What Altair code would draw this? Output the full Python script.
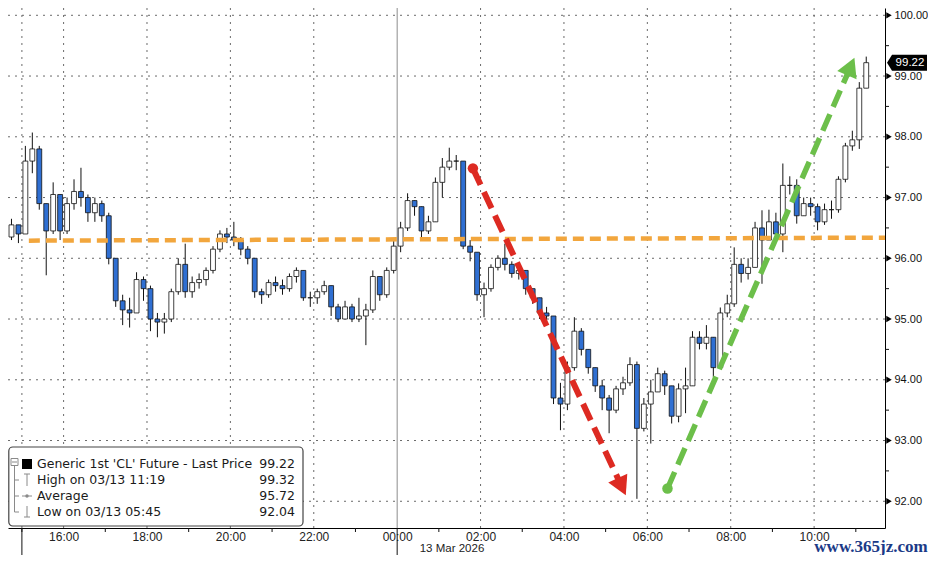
import math
import altair as alt
import pandas as pd

# ---------------- data ----------------
first_open = 96.35
candle_start = "14:40"          # 12 Mar 2026, 10-minute bars
bar_minutes = 10

closes = [
    96.55, 96.40, 97.60, 97.80, 96.90, 96.45, 97.05, 96.45, 96.90, 97.10,
    97.00, 96.75, 96.90, 96.70, 96.00, 95.30, 95.15, 95.10, 95.65, 95.50,
    95.00, 94.95, 95.00, 95.45, 95.90, 95.45, 95.60, 95.65, 95.80, 96.15,
    96.40, 96.35, 96.30, 96.15, 96.00, 95.45, 95.40, 95.60, 95.55, 95.50,
    95.70, 95.80, 95.35, 95.35, 95.45, 95.55, 95.20, 95.00, 95.20, 95.00,
    95.05, 95.15, 95.70, 95.40, 95.80, 96.20, 96.50, 96.95, 96.85, 96.45,
    96.60, 97.25, 97.50, 97.60, 97.60, 96.20, 96.10, 95.40, 95.50, 95.85,
    96.00, 95.90, 95.75, 95.80, 95.50, 95.35, 95.10, 95.05, 93.70, 93.60,
    94.20, 94.80, 94.50, 94.20, 93.90, 93.70, 93.50, 93.85, 93.95, 94.25,
    93.20, 93.60, 93.80, 94.10, 93.90, 93.40, 93.85, 93.90, 94.70, 94.60,
    94.70, 94.20, 95.10, 95.25, 95.90, 95.75, 95.85, 96.50, 96.30, 96.60,
    96.40, 97.20, 97.20, 96.70, 96.90, 96.85, 96.60, 96.80, 96.80, 97.30,
    97.85, 97.95, 98.80, 99.22]
highs = [
    96.65, 96.55, 97.85, 98.07, 97.85, 96.90, 97.25, 97.05, 97.00, 97.30,
    97.49, 97.05, 97.00, 96.95, 96.75, 96.00, 95.40, 95.35, 95.77, 95.70,
    95.55, 95.10, 95.10, 95.50, 96.00, 96.24, 95.70, 95.75, 95.85, 96.20,
    96.46, 96.50, 96.60, 96.35, 96.20, 96.00, 95.50, 95.65, 95.70, 95.65,
    95.75, 95.85, 95.80, 95.45, 95.50, 95.63, 95.55, 95.25, 95.30, 95.25,
    95.35, 95.25, 95.80, 95.70, 95.85, 96.30, 96.60, 97.07, 96.95, 96.85,
    96.70, 97.33, 97.65, 97.82, 97.70, 97.60, 96.30, 96.10, 95.60, 95.90,
    96.05, 96.24, 95.95, 95.90, 95.80, 95.50, 95.35, 95.20, 95.05, 93.95,
    94.30, 95.03, 94.85, 94.50, 94.20, 94.00, 93.75, 93.90, 94.05, 94.37,
    94.30, 93.70, 94.00, 94.20, 94.15, 93.90, 93.94, 94.20, 94.80, 94.80,
    94.90, 94.70, 95.19, 95.40, 96.18, 96.00, 96.00, 96.60, 96.79, 96.80,
    96.75, 97.56, 97.35, 97.30, 97.00, 97.00, 96.90, 96.90, 96.95, 97.35,
    97.90, 98.10, 98.90, 99.32]
lows = [
    96.30, 96.25, 96.40, 97.40, 96.80, 95.72, 96.40, 96.30, 96.40, 96.80,
    96.85, 96.60, 96.60, 96.60, 95.90, 95.20, 94.90, 94.86, 95.10, 95.30,
    94.80, 94.70, 94.76, 94.95, 95.40, 95.35, 95.35, 95.50, 95.55, 95.75,
    96.10, 96.25, 96.20, 96.05, 95.90, 95.35, 95.25, 95.35, 95.45, 95.40,
    95.45, 95.60, 95.30, 95.20, 95.25, 95.40, 95.05, 94.95, 95.00, 94.95,
    94.95, 94.57, 95.10, 95.30, 95.35, 95.75, 96.10, 96.45, 96.70, 96.34,
    96.40, 96.60, 97.00, 97.45, 97.45, 96.15, 95.95, 95.30, 95.03, 95.45,
    95.80, 95.80, 95.68, 95.65, 95.40, 95.25, 95.00, 94.95, 93.60, 93.17,
    93.50, 94.15, 94.40, 94.10, 93.80, 93.50, 93.12, 93.45, 93.75, 93.90,
    92.04, 93.15, 92.95, 93.80, 93.75, 93.28, 93.30, 93.45, 93.90, 94.50,
    94.50, 94.04, 94.20, 95.03, 95.20, 95.60, 95.65, 95.85, 95.58, 96.30,
    96.30, 96.10, 97.05, 96.57, 96.70, 96.70, 96.46, 96.55, 96.65, 96.75,
    97.25, 97.77, 97.80, 98.80]

price_ticks = [92, 93, 94, 95, 96, 97, 98, 99, 100]
half_ticks = [92.5, 93.5, 94.5, 95.5, 96.5, 97.5, 98.5, 99.5]
label_hours = ["16:00", "18:00", "20:00", "22:00", "00:00", "02:00",
               "04:00", "06:00", "08:00", "10:00"]
dotted_hours = ["15:00", "16:00", "18:00", "20:00", "22:00", "02:00",
                "04:00", "06:00", "08:00", "10:00"]
odd_hours = ["15:00", "17:00", "19:00", "21:00", "23:00", "01:00", "03:00",
             "05:00", "07:00", "09:00", "11:00"]
session_breaks = ["15:00", "00:00"]
view_start, view_end = "14:40", "11:42"
price_min, price_max = 91.56, 100.12

avg_line_time = ["15:10", "11:42"]
avg_line_price = [96.29, 96.34]
red_time = ["01:49", "05:29"]
red_price = [97.48, 92.10]
green_time = ["06:29", "10:58"]
green_price = [92.21, 99.30]

legend_labels = ["Generic 1st 'CL' Future - Last Price", "High on 03/13 11:19",
                 "Average", "Low on 03/13 05:45"]
legend_values = ["99.22", "99.32", "95.72", "92.04"]
last_price = 99.22
date_label = "13 Mar 2026"
watermark = "www.365jz.com"


# ---------------- helpers ----------------
def hrs(s):
    h, m = map(int, s.split(":"))
    v = h + m / 60.0
    return v - 24 if v >= 12 else v   # hours relative to 13 Mar 00:00


W, H = 877, 520
X0, X1 = hrs(view_start), hrs(view_end)
pxh = W / (X1 - X0)
pxp = H / (price_max - price_min)

XS = alt.Scale(domain=[X0, X1], nice=False, zero=False)
YS = alt.Scale(domain=[price_min, price_max], nice=False, zero=False)
XAX = alt.Axis(values=[hrs(s) for s in label_hours],
               labelExpr="pad(toString((datum.value + 24) % 24), 2, '0', 'left') + ':00'",
               grid=False, ticks=False, tickSize=0, domain=True, domainColor="#000",
               domainWidth=1, labelFont="Liberation Sans", labelFontSize=12,
               labelColor="#222", labelPadding=3, title=None, labelFlush=False,
               labelOverlap=False)
YAX = alt.Axis(orient="right", values=price_ticks, format=".2f", grid=False,
               ticks=False, tickSize=0, domain=True, domainColor="#000", domainWidth=1,
               labelFont="Liberation Sans", labelFontSize=11, labelColor="#111",
               labelPadding=9, title=None, labelFlush=False, labelOverlap=False)


def X(f):
    return alt.X(f, type="quantitative", scale=XS, axis=XAX)


def Y(f):
    return alt.Y(f, type="quantitative", scale=YS, axis=YAX)


t_start = hrs(candle_start)
step = bar_minutes / 60.0
opens = [first_open] + closes[:-1]
rows = []
for i, (o, c, h, l) in enumerate(zip(opens, closes, highs, lows)):
    t = t_start + i * step
    rows.append({"t0": t + 1.5 / 60, "t1": t + 8.5 / 60, "tm": t + 5 / 60,
                 "o": o, "c": c, "h": h, "l": l,
                 "dir": "up" if c >= o else "down"})
candles = pd.DataFrame(rows)

dummy = pd.DataFrame({"k": [0]})
GRID = "#6a6a6a"

layers = []

# gridlines
layers.append(alt.Chart(pd.DataFrame({"p": price_ticks})).mark_rule(
    color=GRID, strokeWidth=1, strokeDash=[2, 5]).encode(
    y=Y("p"), x=alt.value(0), x2=alt.value(W)))
layers.append(alt.Chart(pd.DataFrame({"t": [hrs(s) for s in dotted_hours]})).mark_rule(
    color=GRID, strokeWidth=1, strokeDash=[2, 5]).encode(
    x=X("t"), y=alt.value(0), y2=alt.value(H)))
layers.append(alt.Chart(pd.DataFrame({"t": [hrs("00:00")]})).mark_rule(
    color="#8c8c8c", strokeWidth=1).encode(x=X("t"), y=alt.value(0), y2=alt.value(H)))
layers.append(alt.Chart(pd.DataFrame({"t": [hrs(s) for s in session_breaks]})).mark_rule(
    color="#111", strokeWidth=1).encode(x=X("t"), y=alt.value(H), y2=alt.value(H + 27)))
layers.append(alt.Chart(pd.DataFrame({"t": [hrs(s) for s in odd_hours]})).mark_rule(
    color="#111", strokeWidth=1).encode(x=X("t"), y=alt.value(H), y2=alt.value(H + 4)))

# candles
layers.append(alt.Chart(candles).mark_rule(color="#111", strokeWidth=1).encode(
    x=X("tm"), y=Y("l"), y2="h"))
layers.append(alt.Chart(candles).mark_rect(stroke="#111", strokeWidth=0.8).encode(
    x=X("t0"), x2="t1", y=Y("o"), y2="c",
    fill=alt.Fill("dir:N", scale=alt.Scale(domain=["up", "down"],
                                           range=["#ffffff", "#2f6fd2"]), legend=None)))

# orange dashed level
layers.append(alt.Chart(pd.DataFrame({"t": [hrs(s) for s in avg_line_time],
                                      "p": avg_line_price})).mark_line(
    color="#f2a63d", strokeWidth=4.5, strokeDash=[11, 6], strokeCap="butt").encode(
    x=X("t"), y=Y("p")))

# arrows
HEAD = "M0,0L1,1.8L-1,1.8Z"


def arrow(times, prices, color, width, dash):
    ts, tt = hrs(times[0]), hrs(times[1])
    ps, pt = prices
    dx = (tt - ts) * pxh
    dy = -(pt - ps) * pxp
    n = math.hypot(dx, dy)
    ux, uy = dx / n, dy / n
    ang = math.degrees(math.atan2(ux, -uy)) % 360
    back = 12
    tb = tt - back * ux / pxh
    pb = pt + back * uy / pxp
    out = []
    out.append(alt.Chart(pd.DataFrame({"t": [ts], "p": [ps], "t2": [tb], "p2": [pb]})).mark_rule(
        color=color, strokeWidth=width, strokeDash=dash, strokeCap="butt").encode(
        x=X("t"), y=Y("p"), x2="t2", y2="p2"))
    out.append(alt.Chart(pd.DataFrame({"t": [ts], "p": [ps]})).mark_point(
        shape="circle", filled=True, size=110, color=color, opacity=1).encode(
        x=X("t"), y=Y("p")))
    out.append(alt.Chart(pd.DataFrame({"t": [tt], "p": [pt]})).mark_point(
        shape=HEAD, filled=True, size=441, color=color, opacity=1, angle=ang).encode(
        x=X("t"), y=Y("p")))
    return out


layers += arrow(red_time, red_price, "#dd2a22", 6, [18, 8])
layers += arrow(green_time, green_price, "#6cbf4a", 5.5, [18, 8])

# right axis decorations
layers.append(alt.Chart(pd.DataFrame({"p": price_ticks})).mark_point(
    shape="triangle-right", filled=True, size=40, color="#000", opacity=1).encode(
    x=alt.value(W + 4), y=Y("p")))
layers.append(alt.Chart(pd.DataFrame({"p": half_ticks})).mark_rule(
    color="#111", strokeWidth=1).encode(x=alt.value(W), x2=alt.value(W + 4), y=Y("p")))
TAG = "M-1,0L-0.75,-0.4L1,-0.4L1,0.4L-0.75,0.4Z"
layers.append(alt.Chart(pd.DataFrame({"p": [last_price]})).mark_point(
    shape=TAG, filled=True, size=1600, color="#000", opacity=1).encode(
    x=alt.value(W + 22), y=Y("p")))
layers.append(alt.Chart(pd.DataFrame({"p": [last_price], "s": [f"{last_price:.2f}"]})).mark_text(
    font="Liberation Sans", fontSize=11.5, color="#fff", align="center",
    baseline="middle").encode(x=alt.value(W + 25), y=Y("p"), text="s:N"))

# legend box
GRAY = "#8a8a8a"


def seg(x1, y1, x2, y2, color=GRAY, w=1):
    return alt.Chart(dummy).mark_rule(color=color, strokeWidth=w).encode(
        x=alt.value(x1), y=alt.value(y1), x2=alt.value(x2), y2=alt.value(y2))


layers.append(alt.Chart(dummy).mark_rect(fill="#fff", stroke="#444", strokeWidth=1.2,
                                         cornerRadius=4).encode(
    x=alt.value(0.8), x2=alt.value(295), y=alt.value(439), y2=alt.value(518)))
layers.append(alt.Chart(dummy).mark_point(shape="square", filled=False, size=49,
                                          color=GRAY, strokeWidth=1, opacity=1).encode(
    x=alt.value(6.5), y=alt.value(454)))
layers.append(seg(4, 454, 9, 454))
layers.append(seg(6.5, 458, 6.5, 504))
for yy in (472, 488, 504):
    layers.append(seg(6.5, yy, 11, yy))
layers.append(alt.Chart(dummy).mark_rect(fill="#000").encode(
    x=alt.value(14), x2=alt.value(24), y=alt.value(451), y2=alt.value(461)))
layers.append(seg(16, 466, 22, 466))
layers.append(seg(19, 466, 19, 478))
layers.append(seg(14, 488, 24, 488))
layers.append(alt.Chart(dummy).mark_point(shape="circle", filled=True, size=12,
                                          color=GRAY, opacity=1).encode(
    x=alt.value(19), y=alt.value(488)))
layers.append(seg(19, 498, 19, 509))
layers.append(seg(16, 509, 22, 509))
for k, (lab, val) in enumerate(zip(legend_labels, legend_values)):
    yy = 456 + 16 * k
    layers.append(alt.Chart(dummy).mark_text(font="DejaVu Sans", fontSize=12.5,
                                             color="#1a1a1a", align="left",
                                             baseline="middle").encode(
        x=alt.value(29), y=alt.value(yy), text=alt.value(lab)))
    layers.append(alt.Chart(dummy).mark_text(font="DejaVu Sans", fontSize=12.5,
                                             color="#1a1a1a", align="right",
                                             baseline="middle").encode(
        x=alt.value(287), y=alt.value(yy), text=alt.value(val)))

# bottom texts
layers.append(alt.Chart(dummy).mark_text(font="Liberation Sans", fontSize=11.5, color="#222",
                                         align="center", baseline="middle").encode(
    x=alt.value(444), y=alt.value(541), text=alt.value(date_label)))
layers.append(alt.Chart(dummy).mark_text(font="Liberation Serif", fontSize=17,
                                         fontWeight="bold", color="#1b3a87",
                                         align="center", baseline="middle").encode(
    x=alt.value(863), y=alt.value(539), text=alt.value(watermark)))

chart = alt.layer(*layers).properties(
    width=W, height=H,
    autosize=alt.AutoSizeParams(type="none"),
    padding={"left": 0, "top": 0, "right": 43, "bottom": 27},
    background="#ffffff",
).configure_view(stroke=None)

chart.save("out.html", embed_options={"renderer": "svg", "actions": False})
